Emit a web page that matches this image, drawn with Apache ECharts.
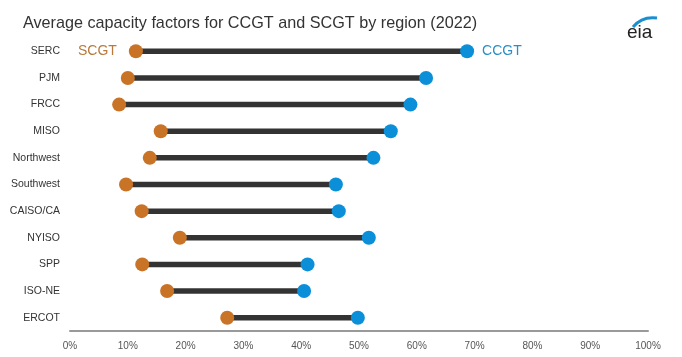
<!DOCTYPE html>
<html>
<head>
<meta charset="utf-8">
<script src="https://cdn.jsdelivr.net/npm/echarts@6/dist/echarts.min.js"></script>
<style>html,body{margin:0;padding:0;background:#fff;}#c{width:682px;height:357px;}</style>
</head>
<body>
<div id="c"></div>
<script>
var regions = ['SERC','PJM','FRCC','MISO','Northwest','Southwest','CAISO/CA','NYISO','SPP','ISO-NE','ERCOT'];
var scgt = [11.4, 10.0, 8.5, 15.7, 13.8, 9.7, 12.4, 19.0, 12.5, 16.8, 27.2];
var ccgt = [68.7, 61.6, 58.9, 55.5, 52.5, 46.0, 46.5, 51.7, 41.1, 40.5, 49.8];
var xTicks = [0,10,20,30,40,50,60,70,80,90,100];

var chart = echarts.init(document.getElementById('c'), null, {renderer:'canvas'});
var font = 'Arial, "Liberation Sans", sans-serif';
var rangeData = regions.map(function(r,i){ return [scgt[i], ccgt[i], i]; });

chart.setOption({
  animation:false,
  backgroundColor:'#fff',
  title:{ text:'Average capacity factors for CCGT and SCGT by region (2022)', left:18, top:11,
    textStyle:{ fontFamily:font, fontSize:16.2, fontWeight:'normal', color:'#333' } },
  grid:{ left:70, right:34, top:38, bottom:26, containLabel:false },
  xAxis:{ type:'value', min:0, max:100, interval:10,
    axisLine:{ show:true, lineStyle:{ color:'#999', width:2 } },
    axisTick:{ show:false }, splitLine:{ show:false },
    axisLabel:{ formatter:'{value}%', fontFamily:font, fontSize:10, color:'#555', margin:10 } },
  yAxis:{ type:'category', data:regions, inverse:true,
    axisLine:{ show:false }, axisTick:{ show:false },
    axisLabel:{ fontFamily:font, fontSize:10.5, color:'#333', margin:10 } },
  series:[
    { type:'custom', data:rangeData, z:1,
      encode:{ x:[0,1], y:2 },
      renderItem:function(params, api){
        var p1 = api.coord([api.value(0), api.value(2)]);
        var p2 = api.coord([api.value(1), api.value(2)]);
        return { type:'line', shape:{ x1:p1[0], y1:p1[1], x2:p2[0], y2:p2[1] },
          style:{ stroke:'#333', lineWidth:5.5 } };
      } },
    { name:'SCGT', type:'scatter', z:3, symbolSize:14,
      itemStyle:{ color:'#c87326', opacity:1 },
      data: scgt.map(function(v,i){ return [v, regions[i]]; }),
      label:{ show:true, position:'left', distance:12, fontFamily:font, fontSize:14, color:'#b87a3c',
        formatter:function(p){ return p.dataIndex===0 ? 'SCGT' : ''; } } },
    { name:'CCGT', type:'scatter', z:3, symbolSize:14,
      itemStyle:{ color:'#0b8fd8', opacity:1 },
      data: ccgt.map(function(v,i){ return [v, regions[i]]; }),
      label:{ show:true, position:'right', distance:8, fontFamily:font, fontSize:14, color:'#2a8fc6',
        formatter:function(p){ return p.dataIndex===0 ? 'CCGT' : ''; } } }
  ],
  graphic:[
    { type:'text', left:627, top:23, style:{ text:'eia', fontFamily:font, fontSize:19, fill:'#222' } },
    { type:'bezierCurve', shape:{ x1:633, y1:27, cpx1:642, cpy1:16, x2:657, y2:18 },
      style:{ stroke:'#1a8fd0', lineWidth:3, fill:null } }
  ]
});
</script>
</body>
</html>
